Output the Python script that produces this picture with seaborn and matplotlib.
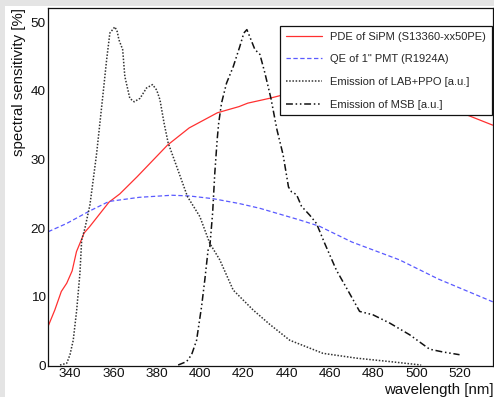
import numpy as np
import pandas as pd
import matplotlib
matplotlib.use("Agg")
import matplotlib.pyplot as plt
from matplotlib.patches import Rectangle
from matplotlib.lines import Line2D
from matplotlib.ticker import MultipleLocator
import seaborn as sns

# PDE of the SiPM (S13360-xx50PE) in %
pde_nm = [330, 333, 336, 338.5, 341, 343, 345.5, 346.5, 349, 354, 358, 363, 371, 385,
          395, 408, 418, 422, 432, 437, 445, 455, 465, 480, 495, 510, 523, 535]
pde_val = [5.8, 8.1, 10.8, 12.0, 13.8, 16.6, 18.5, 19.3, 20.2, 22.2, 23.8, 25.0, 27.5, 32.1,
           34.6, 36.8, 37.7, 38.2, 38.9, 39.3, 39.7, 40.0, 39.9, 39.4, 38.6, 37.6, 36.5, 35.0]

# QE of the 1" PMT (R1924A) in %
qe_nm = [330, 338.5, 349, 358, 372, 387, 395, 406, 418, 427.6, 446, 455, 470, 492, 510, 535]
qe_val = [19.5, 20.7, 22.5, 23.9, 24.5, 24.8, 24.7, 24.3, 23.6, 22.9, 21.2, 20.3, 18.0, 15.4,
          12.6, 9.3]

# Emission spectrum of LAB+PPO, arbitrary units
lab_nm = [335.4, 338.5, 340, 341.5, 343.1, 344.6, 345.4, 346.9, 349.2, 350.7, 352.3, 353.8,
          355.3, 356.9, 358.4, 360.7, 361.8, 362.6, 364.3, 365.3, 367.6, 369.6, 372.3, 375.3,
          378.1, 380, 381.5, 383.4, 385.3, 389.2, 394.2, 399.9, 404.5, 409.1, 415.3, 424.5,
          432.2, 441.4, 456.7, 472.1, 487.5, 502]
lab_val = [0.1, 0.35, 1.6, 3.7, 8.1, 13.5, 18.3, 20.0, 23.4, 27.0, 30.9, 35.3,
           39.7, 44.5, 48.4, 49.3, 48.6, 47.4, 46.0, 42.1, 38.9, 38.4, 38.9, 40.4,
           40.9, 40.1, 38.7, 35.3, 32.4, 29.0, 24.6, 21.7, 17.8, 15.4, 11.0, 8.1,
           6.0, 3.7, 1.8, 1.1, 0.6, 0.1]

# Emission spectrum of MSB, arbitrary units
msb_nm = [389.9, 393.8, 396.1, 398.4, 400.7, 402.2, 403.7, 404.5, 405.8, 406.8, 407.9, 408.6,
          409.9, 412.2, 415.3, 418.3, 420.2, 421.6, 422.9, 425.3, 427.6, 429.9, 432.7, 435.5,
          438.3, 440.8, 442.2, 444.5, 446.8, 450.6, 453.7, 457.5, 462.9, 469, 473.6, 479.8,
          487.5, 496.7, 505.9, 512, 519.7]
msb_val = [0.1, 0.6, 1.6, 3.7, 8.6, 12.5, 16.8, 17.3, 22.2, 28.0, 32.9, 35.3,
           38.2, 41.1, 43.5, 46.4, 48.4, 48.9, 47.9, 46.0, 45.3, 42.6, 38.9, 34.3,
           30.7, 26.0, 25.3, 24.9, 23.2, 21.9, 20.7, 17.8, 13.9, 10.5, 7.9, 7.4,
           6.2, 4.5, 2.4, 2.0, 1.6]

series_labels = ["PDE of SiPM (S13360-xx50PE)", "QE of 1\" PMT (R1924A)",
                 "Emission of LAB+PPO [a.u.]", "Emission of MSB [a.u.]"]

x_ticks = [340, 360, 380, 400, 420, 440, 460, 480, 500, 520]
y_ticks = [0, 10, 20, 30, 40, 50]

sns.set_style("white")
plt.rcParams["font.family"] = ["Liberation Sans", "DejaVu Sans"]

W, H = 494, 397
fig = plt.figure(figsize=(W / 100, H / 100), dpi=100)
fig.patch.set_facecolor("white")

# grey canvas border on the left and top
fig.patches.append(Rectangle((0, 0), 5 / W, 1, transform=fig.transFigure,
                             facecolor="#e4e4e4", edgecolor="none", zorder=0))
fig.patches.append(Rectangle((0, 1 - 6 / H), 1, 6 / H, transform=fig.transFigure,
                             facecolor="#e4e4e4", edgecolor="none", zorder=0))

left, right, top, bottom = 48.3, 492.7, 8.3, 365.7
ax = fig.add_axes([left / W, 1 - bottom / H, (right - left) / W, (bottom - top) / H])
ax.set_facecolor("white")

styles = [
    dict(color="#ff3030", lw=0.9, ls="-"),
    dict(color="#5a5aff", lw=0.9, ls=(0, (3.5, 2))),
    dict(color="#333333", lw=1.1, ls=(0, (1, 1.1))),
    dict(color="#111111", lw=1.1, ls=(0, (4.5, 1.8, 1, 1.8, 1, 1.8))),
]

datasets = [(pde_nm, pde_val), (qe_nm, qe_val), (lab_nm, lab_val), (msb_nm, msb_val)]
for (xs, ys), st in zip(datasets, styles):
    df = pd.DataFrame({"wavelength": xs, "value": ys})
    sns.lineplot(data=df, x="wavelength", y="value", ax=ax, sort=False,
                 estimator=None, color=st["color"], linewidth=st["lw"],
                 linestyle=st["ls"])

ax.set_xlim(330, 535)
ax.set_ylim(0, 52)
ax.set_xlabel("")
ax.set_ylabel("")

ax.set_xticks(x_ticks)
ax.set_yticks(y_ticks)
ax.xaxis.set_minor_locator(MultipleLocator(5))
ax.yaxis.set_minor_locator(MultipleLocator(2))

px = 0.72  # points per pixel
ax.tick_params(axis="x", which="major", direction="in", length=10.7 * px, width=0.9,
               color="#222222", labelsize=9.7, pad=1.5, top=False)
ax.tick_params(axis="x", which="minor", direction="in", length=5.4 * px, width=0.9,
               color="#222222", top=False)
ax.tick_params(axis="y", which="major", direction="in", length=13 * px, width=0.9,
               color="#222222", labelsize=9.7, pad=2, right=False)
ax.tick_params(axis="y", which="minor", direction="in", length=6.7 * px, width=0.9,
               color="#222222", right=False)
for lab in ax.get_xticklabels() + ax.get_yticklabels():
    lab.set_color("#111111")

for sp in ax.spines.values():
    sp.set_color("#111111")
    sp.set_linewidth(0.9)
    sp.set_visible(True)

fig.text(19 / W, 1 - 8 / H, "spectral sensitivity [%]", rotation=90,
         ha="center", va="top", fontsize=10.8, color="#111111")
fig.text(493.5 / W, 3.2 / H, "wavelength [nm]", ha="right", va="baseline",
         fontsize=10.8, color="#111111")

handles = [Line2D([], [], color=st["color"], lw=st["lw"], ls=st["ls"]) for st in styles]
leg = fig.legend(handles, series_labels, loc="upper left",
                 bbox_to_anchor=(280 / W, 1 - 26 / H), bbox_transform=fig.transFigure,
                 borderaxespad=0, fontsize=8, frameon=True, fancybox=False,
                 edgecolor="#111111", framealpha=1, borderpad=0.5,
                 handlelength=3.3, handletextpad=0.72, labelspacing=1.14)
leg.get_frame().set_linewidth(0.9)
leg.set_zorder(10)

fig.savefig("out.png", dpi=100, facecolor="white")
